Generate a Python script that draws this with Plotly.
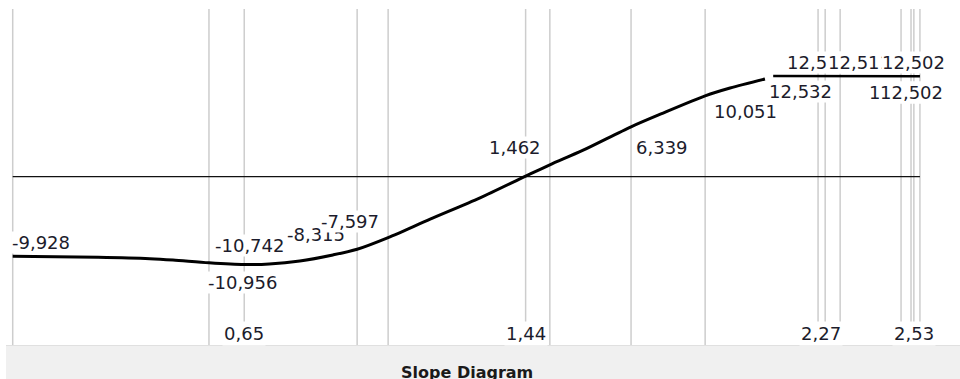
import plotly.graph_objects as go

# ---------------- data ----------------
# positions of the section lines along the beam (m)
grid_x = [0.0, 0.551, 0.65, 0.967, 1.054, 1.44, 1.508, 1.736, 1.944,
          2.261, 2.281, 2.323, 2.494, 2.522, 2.53, 2.547]

# slope curve
slope_x = [0.0, 0.24, 0.385, 0.45, 0.551, 0.65, 0.72, 0.806, 0.899, 0.967,
           1.054, 1.172, 1.312, 1.44, 1.508, 1.6, 1.736, 1.82, 1.944, 2.014, 2.112]
slope_v = [-9.928, -10.05, -10.22, -10.39, -10.742, -10.956, -10.88, -10.51, -9.76, -9.05,
           -7.597, -5.3, -2.65, 0.05, 1.462, 3.25, 6.2, 7.8, 10.051, 11.03, 12.15]

# plateau segment at the right end
plateau_x = [2.135, 2.18, 2.23, 2.323, 2.547]
plateau_v = [12.532, 12.52, 12.51, 12.51, 12.502]

# value labels
label_text = ["-9,928", "-10,742", "-10,956", "-8,315", "-7,597", "1,462", "6,339",
              "10,051", "12,532", "12,512", "12,511", "12,502", "12,511", "12,502"]
label_x = [0.0, 0.551, 0.65, 0.967, 1.054, 1.508, 1.736, 1.944, 2.135,
           2.18, 2.281, 2.53, 2.494, 2.547]
label_v = [-9.928, -10.742, -10.956, -8.315, -7.597, 1.462, 6.339, 10.051, 12.532,
           12.52, 12.52, 12.502, 12.502, 12.502]

# axis tick labels
tick_x = [0.65, 1.44, 2.27, 2.53]
tick_text = ["0,65", "1,44", "2,27", "2,53"]

title_text = "Slope Diagram"

# ---------------- layout / style ----------------
W, H = 960, 379
X_RANGE = [-0.03565, 2.6595]
Y_RANGE = [-25.21, 21.99]

# (xanchor, xshift, yshift) per label
label_style = [
    ("center", 28, 14), ("center", 41, 17), ("center", -2, -18), ("center", -41, 9),
    ("center", -38, 16), ("center", -35, 17), ("center", 31, -22), ("center", 40, -16),
    ("center", 27, -16),
    ("left", -3, 14), ("left", 2, 14), ("left", -33, 14),
    ("left", -33, -16), ("left", -41, -16),
]

TXT = "#1c1c2c"
FONT = "DejaVu Sans"

fig = go.Figure()

fig.add_trace(go.Scatter(x=slope_x, y=slope_v, mode="lines",
                         line=dict(color="black", width=3, shape="spline", smoothing=0.8),
                         hoverinfo="skip", showlegend=False))
fig.add_trace(go.Scatter(x=plateau_x, y=plateau_v, mode="lines",
                         line=dict(color="black", width=2.5),
                         hoverinfo="skip", showlegend=False))

shapes = []
y_top = 1 - 9 / H
y_bot = 1 - 345 / H
for gx in grid_x:
    shapes.append(dict(type="line", xref="x", yref="paper", x0=gx, x1=gx,
                       y0=y_bot, y1=y_top, layer="below",
                       line=dict(color="#cdcdcd", width=1.5)))
# zero line
shapes.append(dict(type="line", xref="x", yref="y", x0=grid_x[0], x1=grid_x[-1],
                   y0=0, y1=0, layer="below", line=dict(color="#111111", width=1.2)))
# bottom caption band
shapes.append(dict(type="rect", xref="paper", yref="paper", x0=6 / W, x1=1,
                   y0=-0.05, y1=1 - 346 / H, layer="above",
                   fillcolor="#f0f0f0", line=dict(width=0)))
shapes.append(dict(type="line", xref="paper", yref="paper", x0=6 / W, x1=1,
                   y0=1 - 345.5 / H, y1=1 - 345.5 / H, layer="above",
                   line=dict(color="#e0e0e0", width=1)))

annotations = []
for t, lx, lv, (xa, xs, ys) in zip(label_text, label_x, label_v, label_style):
    annotations.append(dict(x=lx, y=lv, xref="x", yref="y", text=t, showarrow=False,
                            xanchor=xa, yanchor="middle", xshift=xs, yshift=ys,
                            bgcolor="white", borderpad=0,
                            font=dict(family=FONT, size=18, color=TXT)))
for tx, tt in zip(tick_x, tick_text):
    annotations.append(dict(x=tx, y=1 - 333 / H, xref="x", yref="paper", text=tt,
                            showarrow=False, xanchor="center", yanchor="middle",
                            bgcolor="white", borderpad=1,
                            font=dict(family=FONT, size=18, color=TXT)))
annotations.append(dict(x=467 / W, y=1 - 361 / H, xref="paper", yref="paper",
                        text="<b>" + title_text + "</b>", showarrow=False,
                        xanchor="center", yanchor="top",
                        font=dict(family=FONT, size=16, color="#1a1a1a")))

fig.update_layout(
    width=W, height=H,
    margin=dict(l=0, r=0, t=0, b=0),
    paper_bgcolor="white", plot_bgcolor="white",
    xaxis=dict(range=X_RANGE, visible=False, fixedrange=True),
    yaxis=dict(range=Y_RANGE, visible=False, fixedrange=True),
    shapes=shapes, annotations=annotations,
    showlegend=False,
)

fig.write_html("out.html")
